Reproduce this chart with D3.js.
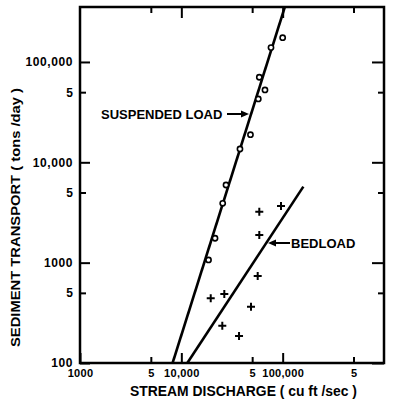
<!DOCTYPE html>
<html><head><meta charset="utf-8">
<script src="https://cdn.jsdelivr.net/npm/d3@7"></script>
<style>
html,body{margin:0;padding:0;background:#fff;}
svg{display:block;}
text{font-family:"Liberation Sans",Arial,sans-serif;font-weight:bold;fill:#000;}
</style></head>
<body>
<svg id="c" width="397" height="410"></svg>
<script>
// ---- data ----
const suspendedQ = [100000, 76700, 58800, 66900, 57500, 48100, 37900, 27600, 25600, 21500, 18550];
const suspendedLoad = [174600, 139000, 70400, 52600, 42800, 18850, 13580, 5940, 3905, 1750, 1064];
const bedloadQ = [58800, 96300, 58800, 56700, 19500, 26550, 48700, 25370, 37100];
const bedload = [3220, 3670, 1888, 736, 441, 487, 364, 235, 186];
const suspendedFitQ = [8200, 105000];
const suspendedFitLoad = [100, 353000];
const bedloadFitQ = [11460, 160000];
const bedloadFitLoad = [100, 5720];
const xMajorTicks = [1000, 10000, 100000];
const xMajorLabels = ["1000", "10,000", "100,000"];
const xMinorTicks = [5000, 50000, 500000];
const yMajorTicks = [100, 1000, 10000, 100000];
const yMajorLabels = ["100", "1000", "10,000", "100,000"];
const yMinorTicks = [500, 5000, 50000];
const minorLabel = "5";

const svg = d3.select("#c");
const L = 80, R = 384, T = 7, B = 363;
const x = d3.scaleLog().domain([1000, 1e6]).range([L, R]);
const y = d3.scaleLog().domain([100, 353000]).range([B, T]);

function styleAxis(size, spacing){
  return g => {
    g.select(".domain").remove();
    g.selectAll(".tick line").attr("stroke", "#000").attr("stroke-width", 2);
    g.selectAll(".tick text").style("font-family", '"Liberation Sans",Arial,sans-serif')
      .style("font-weight", "bold").style("font-size", size + "px").style("letter-spacing", spacing + "px").attr("fill", "#000");
  };
}
const fmt = (labels, ticks) => d => labels[ticks.indexOf(d)];

// bottom
svg.append("g").attr("transform", `translate(0,${B})`)
  .call(d3.axisBottom(x).tickValues(xMajorTicks).tickFormat(fmt(xMajorLabels, xMajorTicks)).tickSize(-10).tickPadding(6))
  .call(styleAxis(11, 0.3));
svg.append("g").attr("transform", `translate(0,${B})`)
  .call(d3.axisBottom(x).tickValues(xMinorTicks).tickFormat(() => minorLabel).tickSize(-6).tickPadding(6))
  .call(styleAxis(11, 0));
// top
svg.append("g").attr("transform", `translate(0,${T})`)
  .call(d3.axisTop(x).tickValues(xMajorTicks.slice(1)).tickFormat("").tickSize(-11))
  .call(styleAxis(11, 0));
svg.append("g").attr("transform", `translate(0,${T})`)
  .call(d3.axisTop(x).tickValues(xMinorTicks).tickFormat("").tickSize(-6))
  .call(styleAxis(11, 0));
// left
svg.append("g").attr("transform", `translate(${L},0)`)
  .call(d3.axisLeft(y).tickValues(yMajorTicks).tickFormat(fmt(yMajorLabels, yMajorTicks)).tickSize(-10).tickPadding(7))
  .call(styleAxis(12, 0.6));
svg.append("g").attr("transform", `translate(${L},0)`)
  .call(d3.axisLeft(y).tickValues(yMinorTicks).tickFormat(() => minorLabel).tickSize(-6).tickPadding(7))
  .call(styleAxis(12, 0));
// right
svg.append("g").attr("transform", `translate(${R},0)`)
  .call(d3.axisRight(y).tickValues(yMajorTicks).tickFormat("").tickSize(-12))
  .call(styleAxis(12, 0));
svg.append("g").attr("transform", `translate(${R},0)`)
  .call(d3.axisRight(y).tickValues(yMinorTicks).tickFormat("").tickSize(-6))
  .call(styleAxis(12, 0));

// frame
svg.append("rect").attr("x", L).attr("y", T).attr("width", R - L).attr("height", B - T)
  .attr("fill", "none").attr("stroke", "#000").attr("stroke-width", 2.5);

// clip
svg.append("clipPath").attr("id", "clip").append("rect")
  .attr("x", L).attr("y", T).attr("width", R - L).attr("height", B - T);

const line = d3.line().x(d => x(d[0])).y(d => y(d[1]));
const plot = svg.append("g").attr("clip-path", "url(#clip)");
plot.append("path").datum(d3.zip(suspendedFitQ, suspendedFitLoad)).attr("d", line)
  .attr("fill", "none").attr("stroke", "#000").attr("stroke-width", 2.6);
plot.append("path").datum(d3.zip(bedloadFitQ, bedloadFitLoad)).attr("d", line)
  .attr("fill", "none").attr("stroke", "#000").attr("stroke-width", 2.6);

// suspended points (open circles)
plot.selectAll("circle.s").data(d3.zip(suspendedQ, suspendedLoad)).join("circle")
  .attr("cx", d => x(d[0])).attr("cy", d => y(d[1])).attr("r", 2.6)
  .attr("fill", "#fff").attr("stroke", "#000").attr("stroke-width", 1.6);

// bedload points (crosses)
const cs = 4;
plot.selectAll("path.b").data(d3.zip(bedloadQ, bedload)).join("path")
  .attr("d", d => { const cx = x(d[0]), cy = y(d[1]);
    return `M${cx - cs},${cy}H${cx + cs}M${cx},${cy - cs}V${cy + cs}`; })
  .attr("stroke", "#000").attr("stroke-width", 2).attr("fill", "none");

// annotations
svg.append("text").attr("x", 101).attr("y", 119).style("font-size", "13px").text("SUSPENDED LOAD");
svg.append("line").attr("x1", 227).attr("y1", 114).attr("x2", 244).attr("y2", 114)
  .attr("stroke", "#000").attr("stroke-width", 2);
svg.append("path").attr("d", "M249,114 L241,110.5 L241,117.5 Z").attr("fill", "#000");

svg.append("text").attr("x", 291).attr("y", 248).style("font-size", "13px").text("BEDLOAD");
svg.append("line").attr("x1", 274).attr("y1", 243).attr("x2", 290).attr("y2", 243)
  .attr("stroke", "#000").attr("stroke-width", 2);
svg.append("path").attr("d", "M268,243 L276,239.5 L276,246.5 Z").attr("fill", "#000");

// axis titles
svg.append("text").attr("x", 243.5).attr("y", 396).attr("text-anchor", "middle")
  .attr("textLength", 227).attr("lengthAdjust", "spacingAndGlyphs")
  .style("font-size", "14px").text("STREAM DISCHARGE ( cu  ft /sec )");
svg.append("text").attr("transform", "translate(20,217.5) rotate(-90)").attr("text-anchor", "middle")
  .attr("textLength", 259).attr("lengthAdjust", "spacingAndGlyphs")
  .style("font-size", "13px").text("SEDIMENT TRANSPORT ( tons /day )");
</script>
</body></html>
